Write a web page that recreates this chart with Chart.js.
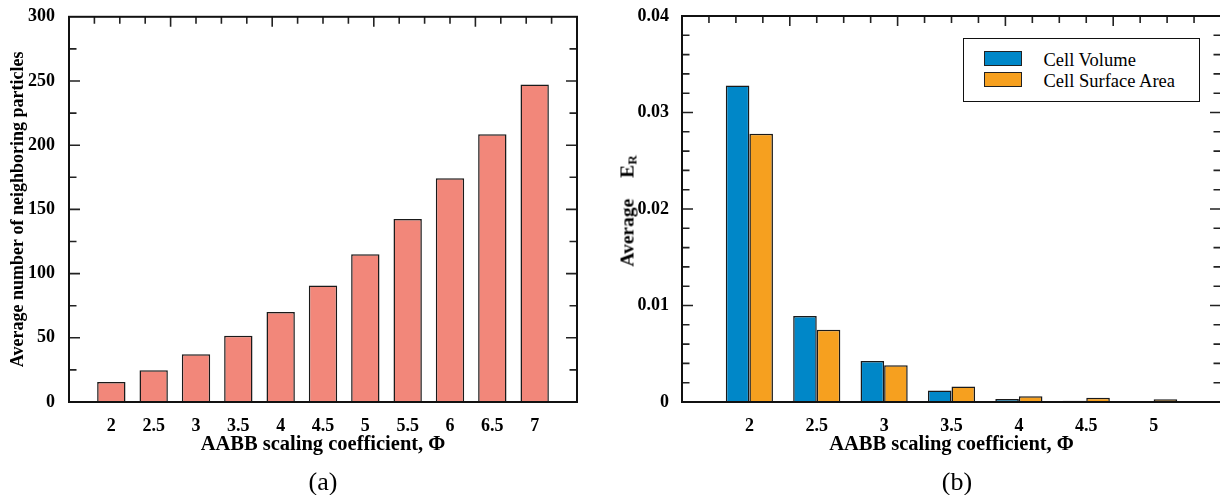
<!DOCTYPE html>
<html>
<head>
<meta charset="utf-8">
<script src="https://cdn.jsdelivr.net/npm/chart.js"></script>
<style>
  html, body { margin: 0; padding: 0; background: #fff; overflow: hidden; }
  body { position: relative; width: 1220px; height: 495px; font-family: 'Liberation Serif', 'Times New Roman', serif; color: #000; }
  #wrapA { position: absolute; left: 0; top: 0; width: 610px; height: 495px; }
  #wrapB { position: absolute; left: 610px; top: 0; width: 614px; height: 495px; }
  .caption { position: absolute; font-size: 26px; line-height: 1; transform: translate(-50%, -50%); white-space: nowrap; }
  #ytitleB { position: absolute; left: 628px; top: 211px; font-size: 19.5px; font-weight: bold; line-height: 1; white-space: nowrap;
             transform: translate(-50%, -50%) rotate(-90deg); }
  #ytitleB sub { font-size: 13px; vertical-align: -3px; }
  #legendB { position: absolute; left: 963px; top: 38px; width: 237px; height: 64px; border: 1.5px solid #111; box-sizing: border-box; background: #fff; }
  #legendB .sw { position: absolute; left: 19.5px; width: 38px; height: 15px; border: 1px solid #222; box-sizing: border-box; }
  #legendB .lb { position: absolute; left: 79.5px; font-size: 18.5px; line-height: 1; white-space: nowrap; }
</style>
</head>
<body>
<div id="wrapA"><canvas id="chartA" width="610" height="495"></canvas></div>
<div id="wrapB"><canvas id="chartB" width="614" height="495"></canvas></div>
<div id="ytitleB">Average<span style="margin-left:21px">E</span><sub>R</sub></div>
<div id="legendB"></div>
<div class="caption" style="left:323px; top:482px">(a)</div>
<div class="caption" style="left:957px; top:482px">(b)</div>
<script>
// (a) neighbours vs AABB scaling coefficient
const phiA = [2, 2.5, 3, 3.5, 4, 4.5, 5, 5.5, 6, 6.5, 7]
const neighbors = [15.5, 24.8, 37.2, 51.5, 70, 90.7, 115, 142.5, 174.2, 208.5, 247.2]
const yTicksA = [0, 50, 100, 150, 200, 250, 300]

// (b) average relative error
const phiB = [2, 2.5, 3, 3.5, 4, 4.5, 5]
const cellVolume = [0.0328, 0.0089, 0.00425, 0.0012, 0.0003, 0.00012, 0.00004]
const cellSurface = [0.0278, 0.0075, 0.0038, 0.0016, 0.0006, 0.00045, 0.00028]
const seriesNames = ['Cell Volume', 'Cell Surface Area']
const yTicksB = [0, 0.01, 0.02, 0.03, 0.04]

const serif = 'Liberation Serif'
const salmon = 'rgb(242, 135, 122)'
const blue = 'rgb(0, 135, 200)'
const orange = 'rgb(246, 160, 31)'

// frame box + inward tick marks on left, right and top
const framePlugin = {
  id: 'frame',
  afterDatasetsDraw(chart, args, opts) {
    const { ctx, chartArea: a, scales: { x, y } } = chart
    ctx.save()
    ctx.strokeStyle = '#222'
    ctx.lineWidth = 1.6
    ctx.beginPath()
    const nY = Math.round((y.max - y.min) / opts.yMinor)
    for (let k = 1; k < nY; k++) {
      const py = y.getPixelForValue(y.min + k * opts.yMinor)
      const len = k % opts.yEvery === 0 ? 11 : 7.5
      ctx.moveTo(a.left, py); ctx.lineTo(a.left + len, py)
      ctx.moveTo(a.right, py); ctx.lineTo(a.right - len, py)
    }
    const nX = 20
    for (let k = 1; k < nX; k++) {
      const px = x.getPixelForValue(x.min + k * (x.max - x.min) / nX)
      const len = k % 4 === 0 ? 10 : 7
      ctx.moveTo(px, a.top); ctx.lineTo(px, a.top + len)
    }
    ctx.stroke()
    ctx.strokeStyle = '#111'
    ctx.lineWidth = 2
    ctx.strokeRect(a.left, a.top, a.right - a.left, a.bottom - a.top)
    ctx.restore()
  }
}

function xScale(cats) {
  return {
    type: 'linear',
    min: cats[0] - 0.5,
    max: cats[cats.length - 1] + 0.5,
    offset: false,
    grid: { display: false },
    border: { display: false },
    afterBuildTicks: s => { s.ticks = cats.map(v => ({ value: v })) },
    afterFit: s => { s.height = 93 },
    ticks: {
      autoSkip: false, maxRotation: 0, padding: 5.5, color: '#000',
      font: { family: serif, weight: 'bold', size: 18 },
      callback: v => String(v)
    },
    title: {
      display: true, text: 'AABB scaling coefficient, \u03A6', color: '#000',
      font: { family: serif, weight: 'bold', size: 20.5 },
      padding: { top: 0, bottom: 38 }
    }
  }
}

new Chart(document.getElementById('chartA'), {
  type: 'bar',
  data: {
    datasets: [{
      label: 'Average number of neighboring particles',
      data: phiA.map((v, i) => ({ x: v, y: neighbors[i] })),
      backgroundColor: salmon,
      borderColor: '#1a1a1a',
      borderWidth: 1.5,
      categoryPercentage: 0.67,
      barPercentage: 1
    }]
  },
  options: {
    responsive: false,
    animation: false,
    devicePixelRatio: 1,
    layout: { padding: { top: 16, right: 33, bottom: 0, left: 0 } },
    plugins: {
      legend: { display: false },
      tooltip: { enabled: false },
      frame: { yMinor: 25, yEvery: 2 }
    },
    scales: {
      x: xScale(phiA),
      y: {
        min: 0, max: 300,
        grid: { display: false },
        border: { display: false },
        afterBuildTicks: s => { s.ticks = yTicksA.map(v => ({ value: v })) },
        afterFit: s => { s.width = 69 },
        ticks: { padding: 6, color: '#000', font: { family: serif, weight: 'bold', size: 18 } },
        title: {
          display: true, text: 'Average number of neighboring particles', color: '#000',
          font: { family: serif, weight: 'bold', size: 18 },
          padding: { top: 8, bottom: 0 }
        }
      }
    }
  },
  plugins: [framePlugin]
})

const chartB = new Chart(document.getElementById('chartB'), {
  type: 'bar',
  data: {
    datasets: [
      {
        label: seriesNames[0],
        data: phiB.map((v, i) => ({ x: v, y: cellVolume[i] })),
        backgroundColor: blue
      },
      {
        label: seriesNames[1],
        data: phiB.map((v, i) => ({ x: v, y: cellSurface[i] })),
        backgroundColor: orange
      }
    ]
  },
  options: {
    responsive: false,
    animation: false,
    devicePixelRatio: 1,
    datasets: { bar: { borderColor: '#1a1a1a', borderWidth: 1.5, categoryPercentage: 0.7, barPercentage: 1 } },
    layout: { padding: { top: 16, right: 3, bottom: 0, left: 0 } },
    plugins: {
      legend: { display: false },
      tooltip: { enabled: false },
      frame: { yMinor: 0.002, yEvery: 5 }
    },
    scales: {
      x: xScale(phiB),
      y: {
        min: 0, max: 0.04,
        grid: { display: false },
        border: { display: false },
        afterBuildTicks: s => { s.ticks = yTicksB.map(v => ({ value: v })) },
        afterFit: s => { s.width = 72 },
        ticks: {
          padding: 5, color: '#000', font: { family: serif, weight: 'bold', size: 18 },
          callback: v => v === 0 ? '0' : v.toFixed(2)
        }
      }
    }
  },
  plugins: [framePlugin]
})

// boxed legend built from the datasets
const legend = document.getElementById('legendB')
chartB.data.datasets.forEach((ds, i) => {
  const sw = document.createElement('div')
  sw.className = 'sw'
  sw.style.top = (11.5 + i * 21) + 'px'
  sw.style.background = ds.backgroundColor
  const lb = document.createElement('div')
  lb.className = 'lb'
  lb.style.top = (11.7 + i * 21) + 'px'
  lb.textContent = ds.label
  legend.appendChild(sw)
  legend.appendChild(lb)
})
</script>
</body>
</html>
